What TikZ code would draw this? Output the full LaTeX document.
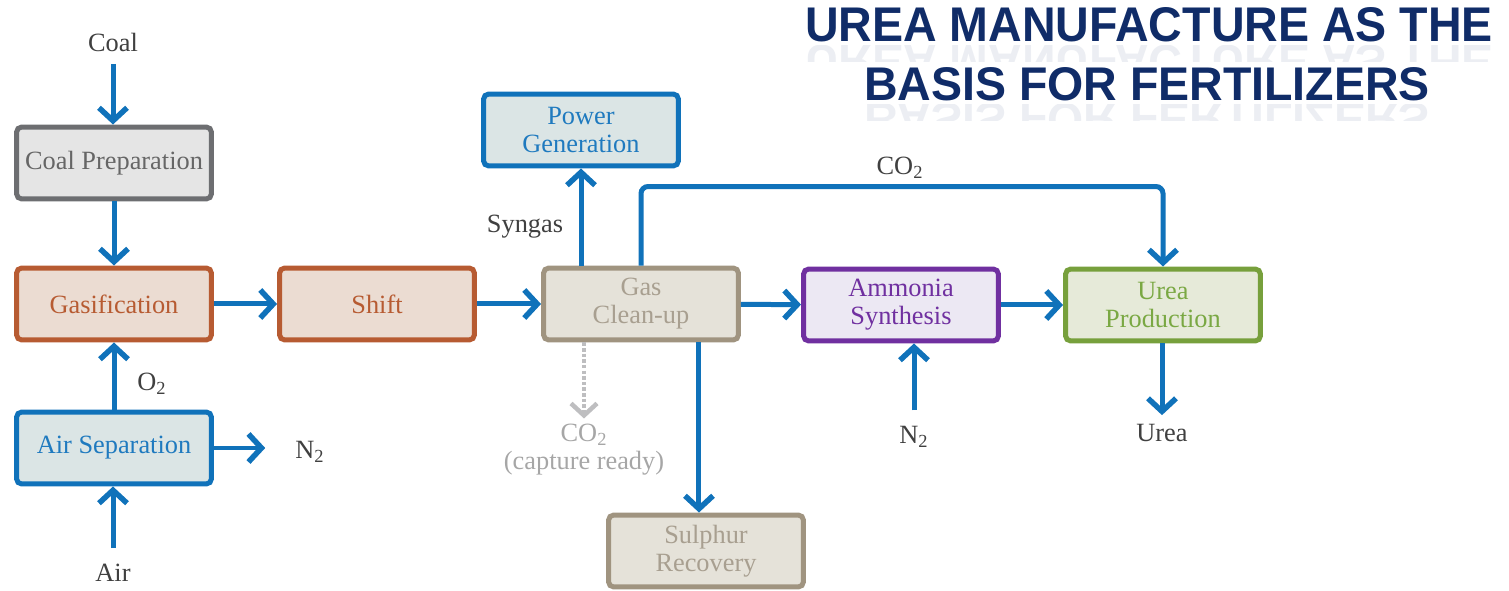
\documentclass[tikz,border=0pt]{standalone}
\usepackage{fontspec}
\setmainfont{Liberation Serif}
\newfontfamily\titlefont{Liberation Sans}
\usetikzlibrary{arrows.meta}
\definecolor{flowblue}{RGB}{16,114,186}
\definecolor{prepline}{RGB}{109,110,113}
\definecolor{prepfill}{RGB}{229,229,229}
\definecolor{preptext}{RGB}{102,102,102}
\definecolor{rustline}{RGB}{183,91,50}
\definecolor{rustfill}{RGB}{235,220,210}
\definecolor{bluefill}{RGB}{219,229,229}
\definecolor{bluetext}{RGB}{31,122,191}
\definecolor{sandline}{RGB}{160,148,128}
\definecolor{sandfill}{RGB}{229,226,217}
\definecolor{sandtext}{RGB}{168,159,144}
\definecolor{purpline}{RGB}{112,48,160}
\definecolor{purpfill}{RGB}{236,232,243}
\definecolor{greenline}{RGB}{119,160,60}
\definecolor{greenfill}{RGB}{230,234,217}
\definecolor{greentext}{RGB}{122,168,67}
\definecolor{labeltext}{RGB}{64,64,64}
\definecolor{capgrey}{RGB}{190,190,192}
\definecolor{captext}{RGB}{166,166,166}
\definecolor{titlenavy}{RGB}{16,44,104}
\tikzset{
  every node/.style={font=\fontsize{15}{16}\selectfont},
  blk/.style    = {rectangle, rounded corners=3pt, line width=0.1cm, align=center,
                   minimum width=3.9cm, minimum height=1.44cm, inner sep=2pt},
  greyb/.style  = {blk, draw=prepline,  fill=prepfill,  text=preptext},
  rustb/.style  = {blk, draw=rustline,  fill=rustfill,  text=rustline},
  blueb/.style  = {blk, draw=flowblue,  fill=bluefill,  text=bluetext},
  sandb/.style  = {blk, draw=sandline,  fill=sandfill,  text=sandtext},
  purpb/.style  = {blk, draw=purpline,  fill=purpfill,  text=purpline},
  greenb/.style = {blk, draw=greenline, fill=greenfill, text=greentext},
  lbl/.style    = {text=labeltext, align=center, inner sep=1pt},
  flow/.style   = {draw=flowblue, line width=0.1cm,
                   -{Straight Barb[length=0.26cm, width=0.56cm, line width=0.11cm]}},
  capflow/.style = {draw=capgrey, line width=0.09cm, dash pattern=on 2pt off 1.2pt,
                   -{Straight Barb[length=0.24cm, width=0.52cm, line width=0.09cm]}},
  ttl/.style    = {text=titlenavy, inner sep=0pt, font=\titlefont\bfseries},
}

\begin{document}
\begin{tikzpicture}[x=0.02cm, y=-0.02cm]
  \useasboundingbox (0,0) rectangle (1509,591);

  % ---- title with its faint reflection ----
  \node[ttl] (title1) at (1149,25) {\resizebox{13.76cm}{0.68cm}{UREA MANUFACTURE AS THE}};
  \node[ttl] (title2) at (1147,84) {\resizebox{11.32cm}{0.66cm}{BASIS FOR FERTILIZERS}};
  \begin{scope}
    \clip (780,46) rectangle (1509,62);
    \node[ttl, opacity=0.08] (refl1) at (1149,62)
      {\scalebox{1}[-1]{\resizebox{13.76cm}{0.68cm}{UREA MANUFACTURE AS THE}}};
  \end{scope}
  \begin{scope}
    \clip (780,105) rectangle (1509,121);
    \node[ttl, opacity=0.08] (refl2) at (1147,120)
      {\scalebox{1}[-1]{\resizebox{11.32cm}{0.66cm}{BASIS FOR FERTILIZERS}}};
  \end{scope}

  % ---- coal / air side (left column) ----
  \node[lbl]   (coal)  at (113,42)  {Coal};
  \node[greyb] (prep)  at (114,163) {Coal Preparation};
  \node[rustb] (gasif) at (114,304) {Gasification};
  \node[blueb] (asu)   at (114,448) {Air Separation};
  \node[lbl]   (air)   at (113,573) {Air};
  \node[lbl]   (otwo)  at (152,384) {O\textsubscript{2}};
  \node[lbl]   (nleft) at (310,452) {N\textsubscript{2}};

  % ---- main line ----
  \node[rustb]  (shift) at (377,304)  {Shift};
  \node[sandb]  (clean) at (641,304)  {Gas\\Clean-up};
  \node[blueb]  (power) at (581,130)  {Power\\Generation};
  \node[purpb]  (amm)   at (901,305)  {Ammonia\\Synthesis};
  \node[greenb] (urea)  at (1163,305) {Urea\\Production};
  \node[sandb]  (sulph) at (706,551)  {Sulphur\\Recovery};

  % ---- labels round the main line ----
  \node[lbl] (syngas) at (525,227) {Syngas};
  \node[lbl] (cotop)  at (900,168) {CO\textsubscript{2}};
  \node[lbl, text=captext] (co2cap) at (584,450) {CO\textsubscript{2}\\(capture ready)};
  \node[lbl] (nbot)   at (914,437) {N\textsubscript{2}};
  \node[lbl] (ureaout) at (1162,433) {Urea};

  % ---- left column arrows ----
  \draw[flow, shorten <=6pt] (coal.south) -- (coal.south |- prep.north);
  \draw[flow] (prep) -- (gasif);
  \draw[flow] (asu) -- (gasif);
  \draw[flow, shorten <=8pt] (air.north) -- (air.north |- asu.south);
  \draw[flow, shorten >=16pt] (asu.east) -- (asu.east -| nleft.west);

  % ---- main line arrows ----
  \draw[flow] (gasif) -- (shift);
  \draw[flow] (shift) -- (clean);
  \draw[flow] (clean) -- (amm);
  \draw[flow] (amm) -- (urea);
  \draw[flow] (power.south |- clean.north) -- (power.south);
  \draw[flow, rounded corners=4pt] (clean.north) -- ++(0,-79) -| (urea.north);

  % ---- outlets below the main line ----
  \draw[capflow] (co2cap.north |- clean.south) -- ++(0,76);
  \draw[flow] ([xshift=1.16cm]clean.south) -- ([xshift=1.16cm]clean.south |- sulph.north);
  \draw[flow, shorten <=8pt] (nbot.north) -- (nbot.north |- amm.south);
  \draw[flow, shorten >=4pt] (urea.south -| ureaout) -- (ureaout.north);
\end{tikzpicture}
\end{document}
